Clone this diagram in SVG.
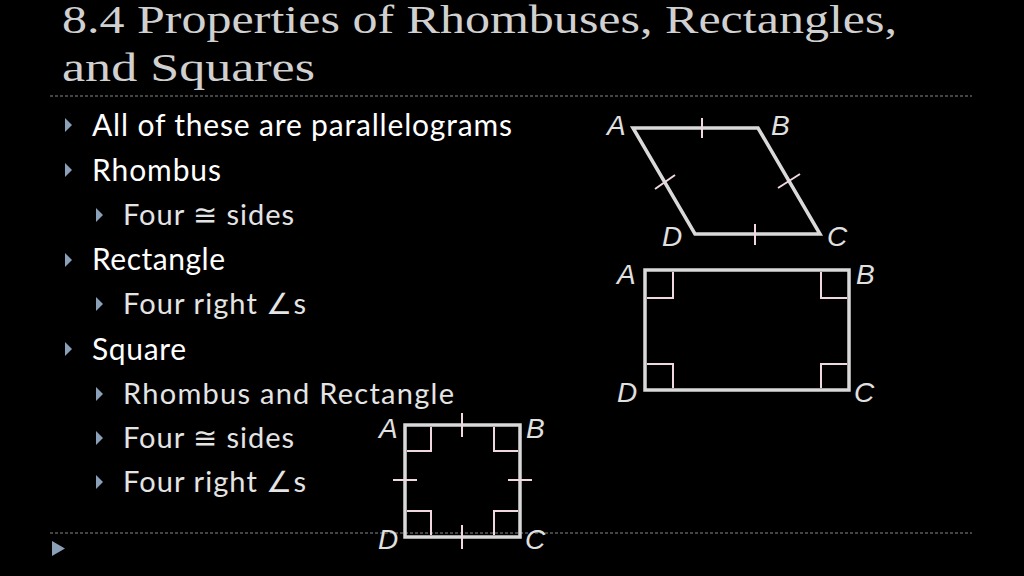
<svg xmlns="http://www.w3.org/2000/svg" width="1024" height="576" viewBox="0 0 1024 576">
<style>
.t{font-family:"Liberation Serif",serif;font-size:39px;fill:#d0d0d0}
.b1{font-family:Lato,"Open Sans",sans-serif;font-size:30px;fill:#fff}
.b2{font-family:Lato,"Open Sans",sans-serif;font-size:29px;fill:#e4e4e4}
.bul{fill:#8a9fb8}
.sh{fill:none;stroke:#d9d9d9;stroke-width:3.5}
.mk{fill:none;stroke:#f0d8e0;stroke-width:2}
.lb{font-family:"Liberation Sans",sans-serif;font-style:italic;font-size:28px;fill:#e0e0e0}
.dash{stroke:#888;stroke-width:1;stroke-dasharray:3 2}
</style>
<rect width="1024" height="576" fill="#000"/>
<text class="t" x="62" y="33" textLength="835" lengthAdjust="spacingAndGlyphs">8.4 Properties of Rhombuses, Rectangles,</text>
<text class="t" x="62" y="81" textLength="253" lengthAdjust="spacingAndGlyphs">and Squares</text>
<line class="dash" x1="50" y1="96" x2="972" y2="96"/>
<line class="dash" x1="50" y1="533" x2="972" y2="533"/>
<polygon class="bul" points="52,541 52,556 65,548.5"/>
<g id="bullets">
<polygon class="bul" points="65,118 65,132 72,125"/><text class="b1" x="92" y="136" textLength="420">All of these are parallelograms</text>
<polygon class="bul" points="65,163 65,177 72,170"/><text class="b1" x="92" y="181" textLength="129">Rhombus</text>
<polygon class="bul" points="96,208 96,222 103,215"/><text class="b2" x="123" y="225" textLength="171">Four ≅ sides</text>
<polygon class="bul" points="65,253 65,267 72,260"/><text class="b1" x="92" y="270" textLength="133">Rectangle</text>
<polygon class="bul" points="96,297 96,311 103,304"/><text class="b2" x="123" y="314" textLength="183">Four right ∠s</text>
<polygon class="bul" points="65,342 65,356 72,349"/><text class="b1" x="92" y="360" textLength="94">Square</text>
<polygon class="bul" points="96,387 96,401 103,394"/><text class="b2" x="123" y="404" textLength="331">Rhombus and Rectangle</text>
<polygon class="bul" points="96,431 96,445 103,438"/><text class="b2" x="123" y="448" textLength="171">Four ≅ sides</text>
<polygon class="bul" points="96,475 96,489 103,482"/><text class="b2" x="123" y="492" textLength="183">Four right ∠s</text>
</g>
<g id="rhombus">
<polygon class="sh" points="633,128 758,128 820,234 695,234"/>
<path class="mk" d="M702,118V138M755,224V245M655,189L675,175M778,188L800,174"/>
<text class="lb" x="607" y="135">A</text><text class="lb" x="771" y="135">B</text>
<text class="lb" x="662" y="246">D</text><text class="lb" x="827" y="246">C</text>
</g>
<g id="rectangle">
<rect class="sh" x="645" y="270" width="204" height="120"/>
<path class="mk" d="M647,298H673V272M847,298H821V272M647,364H673V388M847,364H821V388"/>
<text class="lb" x="617" y="284">A</text><text class="lb" x="856" y="284">B</text>
<text class="lb" x="617" y="402">D</text><text class="lb" x="854" y="402">C</text>
</g>
<g id="square">
<rect class="sh" x="405" y="425" width="115" height="112"/>
<path class="mk" d="M407,451H431V427M518,451H494V427M407,511H431V535M518,511H494V535M462,413V437M462,525V549M393,480H417M508,480H532"/>
<text class="lb" x="379" y="438">A</text><text class="lb" x="526" y="438">B</text>
<text class="lb" x="378" y="549">D</text><text class="lb" x="525" y="549">C</text>
</g>
</svg>
